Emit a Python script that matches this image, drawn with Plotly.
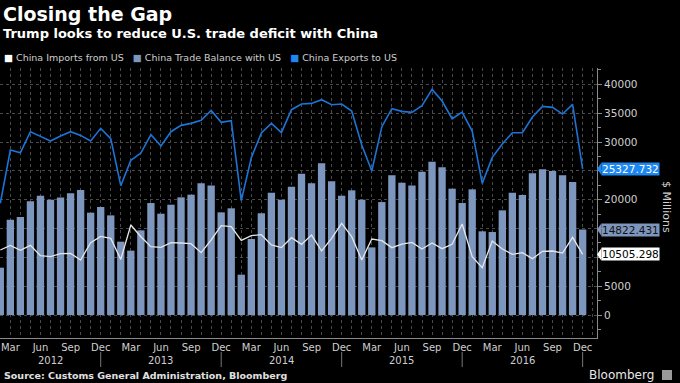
import pandas as pd
import plotly.graph_objects as go

# ---------------- data ----------------
months = pd.period_range("2012-02", "2016-12", freq="M")
month_abbr = [m.strftime("%b") for m in months]
month_num = [m.month for m in months]
years_of = [m.year for m in months]

china_exports_to_us = [19360, 28610, 28150, 31790, 30980, 30170, 31040, 31790, 31150, 30170,
                       32370, 30580, 22430, 26820, 28090, 31270, 29310, 31790, 32890, 33240,
                       33760, 35490, 33410, 33700, 19830, 27280, 31560, 33240, 31620, 35610,
                       36600, 36700, 37340, 36470, 36590, 35370, 29480, 24970, 32660, 35780,
                       35320, 35140, 36300, 39130, 37110, 34040, 35200, 31910, 22830, 27340,
                       29650, 31620, 31620, 34330, 36180, 36010, 34850, 36530, 25327.732]

china_imports_from_us = [11270, 12080, 11210, 12080, 10290, 10120, 10640, 10690, 9540, 12540,
                         13640, 13290, 9650, 15610, 13580, 11850, 11730, 12540, 12490, 12370,
                         10810, 13010, 15490, 15320, 12950, 13760, 13930, 12140, 11680, 13410,
                         12250, 13870, 11100, 13290, 15900, 13580, 9540, 13180, 12890, 11680,
                         12310, 12600, 11440, 12490, 11500, 12250, 15780, 10120, 8210, 12830,
                         11440, 10520, 10810, 9770, 11040, 11100, 10750, 13470, 10505.298]

china_trade_balance = [8210, 16530, 16990, 19710, 20690, 20000, 20400, 21100, 21680, 17750,
                       18730, 17280, 12720, 11160, 14680, 19420, 17570, 19130, 20400, 20870,
                       22830, 22480, 17800, 18500, 6990, 13180, 17630, 21210, 20000, 22250,
                       24510, 22830, 26300, 23180, 20690, 21620, 20000, 11730, 19590, 24220,
                       22950, 22480, 24850, 26590, 25610, 21910, 19420, 21790, 14510, 14390,
                       18150, 21210, 20810, 24570, 25260, 24970, 24220, 23060, 14822.431]

quarter_months = [3, 6, 9, 12]
y_tick_values = [0, 5000, 10000, 15000, 20000, 25000, 30000, 35000, 40000]

# ---------------- styling ----------------
W, H = 680, 383
PL, PR, PT, PB = 0, 597, 68, 338          # plot area in pixels
X_RANGE = [-0.03, 59.43]
Y_RANGE = [-3990, 42840]

C_BG = "#000000"
C_BAR = "#7d96bd"
C_EXP = "#1b74d6"
C_EXP_LBL = "#1e88f0"
C_IMP = "#e6e6e6"
C_TXT = "#cfcfcf"
C_GRID = "#4a4a4a"
C_AXIS = "#8a8a8a"
FONT = "DejaVu Sans"

def py(p):
    return (PB - p) / (PB - PT)

def pxx(p):
    return (p - PL) / (PR - PL)

data_per_px = (Y_RANGE[1] - Y_RANGE[0]) / (PB - PT)

x = list(range(len(months)))

fig = go.Figure()
fig.add_trace(go.Bar(x=x, y=china_trade_balance, name="China Trade Balance with US",
                     marker=dict(color=C_BAR, line=dict(width=0)), showlegend=False))
fig.add_trace(go.Scatter(x=x, y=china_imports_from_us, name="China Imports from US",
                         mode="lines", line=dict(color=C_IMP, width=1.3), showlegend=False))
fig.add_trace(go.Scatter(x=x, y=china_exports_to_us, name="China Exports to US",
                         mode="lines", line=dict(color=C_EXP, width=1.6), showlegend=False))

tickvals = [i for i in x if month_num[i] in quarter_months]
ticktext = [month_abbr[i] for i in tickvals]

annotations = []
shapes = []

# year labels and separators
dec_idx = [i for i in x if month_num[i] == 12]
prev = X_RANGE[0]
for d in dec_idx:
    annotations.append(dict(x=(prev + d) / 2, y=py(360), xref="x", yref="paper",
                            text=str(years_of[d]), showarrow=False,
                            font=dict(family=FONT, size=10, color=C_TXT),
                            xanchor="center", yanchor="middle"))
    shapes.append(dict(type="line", xref="x", yref="paper", x0=d, x1=d,
                       y0=py(352), y1=py(367), line=dict(color="#777777", width=1)))
    prev = d

# last value labels
last_labels = [
    (china_exports_to_us[-1], C_EXP_LBL, "#ffffff"),
    (china_trade_balance[-1], C_BAR, "#111111"),
    (china_imports_from_us[-1], "#ffffff", "#000000"),
]
half_h = 6.4 * data_per_px
for val, bg, fg in last_labels:
    annotations.append(dict(x=1, y=val, xref="paper", yref="y", xanchor="left", yanchor="middle",
                            xshift=4, text=f"{val:.3f}", showarrow=False, bgcolor=bg,
                            borderpad=0, font=dict(family=FONT, size=10.5, color=fg)))
    shapes.append(dict(type="path", xref="paper", yref="y",
                       path=f"M 1,{val} L {1 + 4.5 / (PR - PL)},{val + half_h} "
                            f"L {1 + 4.5 / (PR - PL)},{val - half_h} Z",
                       fillcolor=bg, line=dict(width=0)))

# tick labels hidden behind the value boxes are left blank
y_tick_text = []
for v in y_tick_values:
    covered = any(abs(v - lv[0]) < half_h * 1.4 for lv in last_labels)
    y_tick_text.append("" if covered else str(v))

# titles
annotations.append(dict(x=0, y=py(14), xref="paper", yref="paper", xanchor="left", yanchor="middle",
                        xshift=1, text="<b>Closing the Gap</b>", showarrow=False,
                        font=dict(family=FONT, size=19, color="#ffffff")))
annotations.append(dict(x=0, y=py(34), xref="paper", yref="paper", xanchor="left", yanchor="middle",
                        xshift=1, text="<b>Trump looks to reduce U.S. trade deficit with China</b>",
                        showarrow=False, font=dict(family=FONT, size=13, color="#ffffff")))

legend_items = [("China Imports from US", "#ffffff"),
                ("China Trade Balance with US", C_BAR),
                ("China Exports to US", C_EXP_LBL)]
legend_text = "   ".join(f"<span style='color:{c}'>■</span> {t}" for t, c in legend_items)
annotations.append(dict(x=0, y=py(57), xref="paper", yref="paper", xanchor="left", yanchor="middle",
                        xshift=2, text=legend_text, showarrow=False,
                        font=dict(family=FONT, size=9.5, color=C_TXT)))

# y axis title
annotations.append(dict(x=pxx(667), y=py(207), xref="paper", yref="paper", textangle=90,
                        text="$ Millions", showarrow=False, xanchor="center", yanchor="middle",
                        font=dict(family=FONT, size=11, color=C_TXT)))

# source & brand
annotations.append(dict(x=0, y=py(375), xref="paper", yref="paper", xanchor="left", yanchor="middle",
                        xshift=2, text="<b>Source: Customs General Administration, Bloomberg</b>",
                        showarrow=False, font=dict(family=FONT, size=9.5, color="#e0e0e0")))
annotations.append(dict(x=pxx(656), y=py(375), xref="paper", yref="paper", xanchor="right",
                        yanchor="middle", text="Bloomberg", showarrow=False,
                        font=dict(family=FONT, size=12, color="#e8e8e8")))
shapes.append(dict(type="rect", xref="paper", yref="paper", x0=pxx(662), x1=pxx(672),
                   y0=py(380), y1=py(370), fillcolor="#9a9a9a", line=dict(width=0)))

fig.update_layout(
    width=W, height=H,
    margin=dict(l=PL, r=W - PR, t=PT, b=H - PB, pad=0),
    paper_bgcolor=C_BG, plot_bgcolor=C_BG,
    bargap=0.27,
    showlegend=False,
    annotations=annotations,
    shapes=shapes,
    font=dict(family=FONT, color=C_TXT),
)
fig.update_xaxes(
    range=X_RANGE, tickmode="array", tickvals=tickvals, ticktext=ticktext,
    tickfont=dict(family=FONT, size=10, color=C_TXT),
    showgrid=True, gridcolor=C_GRID, griddash="dot", gridwidth=1,
    minor=dict(tickmode="linear", tick0=0, dtick=1, showgrid=True, gridcolor=C_GRID,
               griddash="dot", gridwidth=1),
    showline=True, linecolor=C_AXIS, linewidth=1, ticks="", zeroline=False,
    automargin=False,
)
fig.update_yaxes(
    range=Y_RANGE, side="right", tickmode="array", tickvals=y_tick_values, ticktext=y_tick_text,
    tickfont=dict(family=FONT, size=10.5, color=C_TXT),
    showgrid=True, gridcolor=C_GRID, griddash="dot", gridwidth=1,
    ticks="outside", ticklen=4, tickcolor=C_AXIS,
    minor=dict(tickmode="linear", tick0=0, dtick=2500, ticks="outside", ticklen=3,
               tickcolor=C_AXIS, showgrid=False),
    showline=True, linecolor=C_AXIS, linewidth=1, zeroline=False,
    automargin=False,
)

fig.write_html("out.html", config={"displayModeBar": False},
               post_script="document.body.style.margin='0';")
